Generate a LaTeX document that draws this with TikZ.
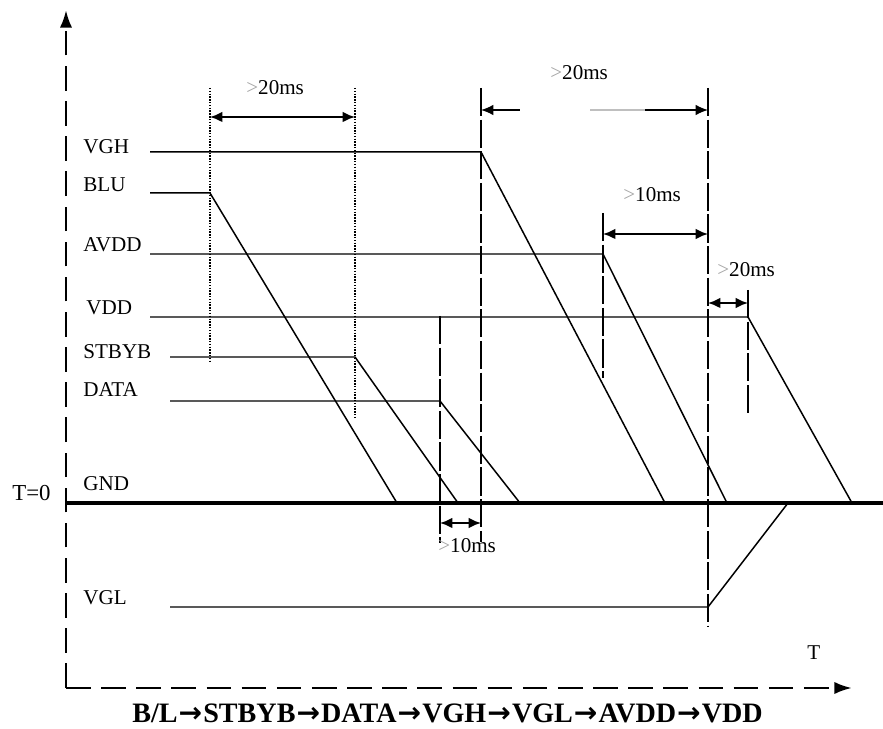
\documentclass[tikz,border=0pt]{standalone}
\usepackage{fontspec}
\setmainfont{Liberation Serif}
\newfontfamily\arrowfont{DejaVu Sans}
\usepackage{tikz}
\usetikzlibrary{arrows.meta}
\tikzset
{
  signal/.style={draw=black,line width=0.85pt},
  ground/.style={draw=black,line width=2.2pt},
  axis/.style={draw=black,line width=1.6pt,dash pattern=on 14pt off 6pt},
  timeline/.style={draw=black,line width=1.1pt,dash pattern=on 16pt off 2pt},
  guide/.style={draw=black,line width=0.7pt,dash pattern=on 0.8pt off 0.8pt},
  interval/.style={draw=black,line width=1.1pt,{Latex[length=7pt,width=6pt]}-{Latex[length=7pt,width=6pt]}},
  siglabel/.style={anchor=base west,inner sep=0pt,font=\fontsize{12}{14}\selectfont},
  timelabel/.style={anchor=base west,inner sep=0pt,font=\fontsize{12}{14}\selectfont}
}
\newcommand{\gt}{{\color{black!35}>}}
\newcommand{\then}{{\arrowfont\bfseries\fontsize{16}{18}\selectfont\kern0.6pt→\kern0.6pt}}

\begin{document}
\begin{tikzpicture}[x=0.02cm,y=-0.02cm]
        \useasboundingbox (0,0) rectangle (883,729);

        % Axes
        \coordinate (origin) at (66,688);
        \draw[axis,-{Latex[length=10pt,width=7pt]}] (origin) -- (66,10);
        \draw[axis,-{Latex[length=10pt,width=7pt]}] (origin) -- (852,688);
        \node[siglabel] (tlabel) at (807,660) {T};
        \node[siglabel,font=\fontsize{13}{15}\selectfont] (tzero) at (12,501) {T=0};

        % Ground level
        \draw[ground] (66,503) -- (883,503);
        \node[siglabel] (gnd) at (83,491) {GND};

        % Signal names
        \node[siglabel] (vgh) at (83,154) {VGH};
        \node[siglabel] (blu) at (83,192) {BLU};
        \node[siglabel] (avdd) at (83,252) {AVDD};
        \node[siglabel] (vdd) at (86,315) {VDD};
        \node[siglabel] (stbyb) at (83,359) {STBYB};
        \node[siglabel] (data) at (83,397) {DATA};
        \node[siglabel] (vgl) at (83,604) {VGL};

        % Dotted guides
        \draw[guide] (210,88) -- (210,363);
        \draw[guide] (355,88) -- (355,417);

        % Dashed time markers
        \draw[timeline] (481,88) -- (481,542);
        \draw[timeline] (440,316) -- (440,543);
        \draw[timeline] (708,88) -- (708,627);
        \draw[timeline] (603,213) -- (603,378);
        \draw[timeline] (748,290) -- (748,415);

        % Power-off waveforms
        \draw[signal] (150,152) -- (481,152) -- (665,503);
        \draw[signal] (150,193) -- (210,193) -- (397,503);
        \draw[signal] (150,254) -- (603,254) -- (727,503);
        \draw[signal] (150,317) -- (748,317) -- (852,503);
        \draw[signal] (170,357) -- (355,357) -- (458,503);
        \draw[signal] (170,401) -- (440,401) -- (520,503);
        \draw[signal] (170,607) -- (708,607) -- (788,503);

        % Delays
        \coordinate (d1a) at (210,117);
        \coordinate (d1b) at (355,117);
        \draw[interval] (d1a) -- (d1b);
        \node[timelabel] (t1) at (246,95) {\gt20ms};

        \coordinate (d2a) at (481,110);
        \coordinate (d2b) at (708,110);
        \draw[draw=black,line width=0.8pt,{Latex[length=7pt,width=6pt]}-] (d2a) -- (520,110);
        \draw[draw=black!25,line width=0.8pt] (590,110) -- (645,110);
        \draw[draw=black,line width=0.8pt,-{Latex[length=7pt,width=6pt]}] (645,110) -- (d2b);
        \node[timelabel] (t2) at (550,80) {\gt20ms};

        \coordinate (d3a) at (603,234);
        \coordinate (d3b) at (708,234);
        \draw[interval] (d3a) -- (d3b);
        \node[timelabel] (t3) at (623,202) {\gt10ms};

        \coordinate (d4a) at (708,303);
        \coordinate (d4b) at (748,303);
        \draw[interval] (d4a) -- (d4b);
        \node[timelabel] (t4) at (717,277) {\gt20ms};

        \coordinate (d5a) at (440,523);
        \coordinate (d5b) at (481,523);
        \draw[interval] (d5a) -- (d5b);
        \node[timelabel] (t5) at (438,553) {\gt10ms};

        % Sequence
        \node[anchor=base west,inner sep=0pt,font=\bfseries\fontsize{16}{18}\selectfont] (order) at (132,722) {B/L\then STBYB\then DATA\then VGH\then VGL\then AVDD\then VDD};
    \end{tikzpicture}
\end{document}
